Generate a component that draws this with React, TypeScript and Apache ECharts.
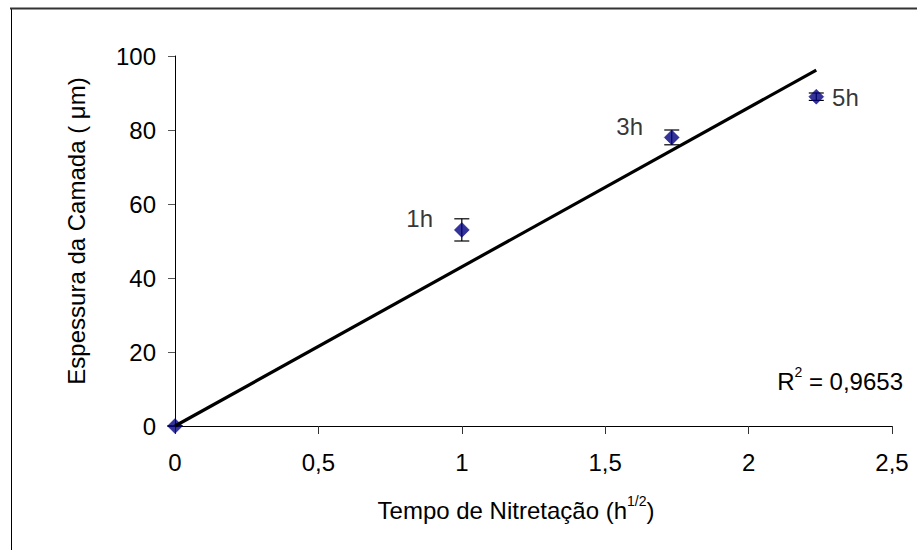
import React, { useEffect, useRef } from "react";
import * as echarts from "echarts";

const xValues = [0, 1, 1.732, 2.236];
const yValues = [0, 53, 78, 89];
const errValues = [0, 3, 2, 1];
const pointLabels = ["", "1h", "3h", "5h"];
const r2Value = "0,9653";
const xAxisTitle = "Tempo de Nitretação (h";
const xAxisTitleSup = "1/2";
const yAxisTitle = "Espessura da Camada ( μm)";

const FONT = "'Liberation Sans', Arial, sans-serif";
const FS = 24;

export default function App() {
  const ref = useRef<HTMLDivElement>(null);

  useEffect(() => {
    if (!ref.current) return;
    const chart = echarts.init(ref.current, undefined, { renderer: "svg" });

    // least-squares trendline through origin
    let sxy = 0, sxx = 0;
    xValues.forEach((x, i) => { sxy += x * yValues[i]; sxx += x * x; });
    const slope = sxy / sxx;
    const xMax = Math.max(...xValues);
    const trend = [[0, 0], [xMax, slope * xMax]];

    const points = xValues.map((x, i) => {
      const lbl = pointLabels[i];
      const isRight = i === xValues.length - 1;
      return {
        value: [x, yValues[i]],
        label: lbl
          ? isRight
            ? { show: true, position: "right", distance: 8, offset: [0, 1], formatter: lbl }
            : { show: true, position: "left", distance: 21, offset: [0, -11], formatter: lbl }
          : { show: false },
      };
    });

    const errData = xValues.map((x, i) => [x, yValues[i] - errValues[i], yValues[i] + errValues[i]]);

    chart.setOption({
      animation: false,
      backgroundColor: "#ffffff",
      textStyle: { fontFamily: FONT },
      grid: { left: 175, right: 25, top: 56, bottom: 124, containLabel: false },
      xAxis: {
        type: "value",
        min: 0,
        max: 2.5,
        interval: 0.5,
        splitLine: { show: false },
        axisLine: { show: true, onZero: false, lineStyle: { color: "#000", width: 1 } },
        axisTick: { show: true, length: 8, inside: false, lineStyle: { color: "#333" } },
        axisLabel: {
          margin: 24,
          color: "#000",
          fontSize: FS,
          fontFamily: FONT,
          formatter: (v: number) => String(v).replace(".", ","),
        },
      },
      yAxis: {
        type: "value",
        min: 0,
        max: 100,
        interval: 20,
        splitLine: { show: false },
        axisLine: { show: true, onZero: false, lineStyle: { color: "#000", width: 1 } },
        axisTick: { show: true, length: 7, inside: false, lineStyle: { color: "#555" } },
        axisLabel: { margin: 19, color: "#000", fontSize: FS, fontFamily: FONT },
      },
      series: [
        {
          type: "custom",
          name: "erro",
          data: errData,
          clip: false,
          z: 3,
          renderItem: (params: any, api: any) => {
            const x = api.value(0);
            const lo = api.coord([x, api.value(1)]);
            const hi = api.coord([x, api.value(2)]);
            const hw = 7.5;
            const st = { stroke: "#000", lineWidth: 1.2 };
            return {
              type: "group",
              children: [
                { type: "line", shape: { x1: lo[0], y1: lo[1], x2: hi[0], y2: hi[1] }, style: st },
                { type: "line", shape: { x1: lo[0] - hw, y1: lo[1], x2: lo[0] + hw, y2: lo[1] }, style: st },
                { type: "line", shape: { x1: hi[0] - hw, y1: hi[1], x2: hi[0] + hw, y2: hi[1] }, style: st },
              ],
            };
          },
        },
        {
          type: "scatter",
          name: "pontos",
          data: points,
          symbol: "diamond",
          symbolSize: [15, 15],
          clip: false,
          z: 4,
          itemStyle: { color: "#000080", borderColor: "#000080", borderWidth: 0.5 },
          label: { color: "#000", fontSize: FS, fontFamily: FONT },
        },
        {
          type: "line",
          name: "tendência",
          data: trend,
          showSymbol: false,
          symbol: "none",
          clip: false,
          z: 5,
          lineStyle: { color: "#000", width: 3.2 },
        },
      ],
      graphic: [
        { type: "line", shape: { x1: 11.5, y1: 8, x2: 11.5, y2: 560 }, style: { stroke: "#000", lineWidth: 1 } },
        { type: "line", shape: { x1: 10, y1: 8.5, x2: 930, y2: 8.5 }, style: { stroke: "#333", lineWidth: 2 } },
        {
          type: "text",
          x: 76.5,
          y: 231,
          rotation: Math.PI / 2,
          style: {
            text: yAxisTitle,
            fill: "#000",
            font: `${FS}px ${FONT}`,
            align: "center",
            verticalAlign: "middle",
          },
        },
        {
          type: "text",
          x: 516,
          y: 508,
          style: {
            text: `{a|${xAxisTitle}}{s|${xAxisTitleSup}}{a|)}`,
            align: "center",
            verticalAlign: "middle",
            rich: {
              a: { fontSize: FS, fontFamily: FONT, fill: "#000", color: "#000", lineHeight: 28, verticalAlign: "bottom" },
              s: { fontSize: 14, fontFamily: FONT, fill: "#000", color: "#000", lineHeight: 28, verticalAlign: "top", padding: [0, 0, 0, 0] },
            },
          },
        },
        {
          type: "text",
          x: 903,
          y: 379,
          style: {
            text: `{a|R}{s|2}{a| = ${r2Value}}`,
            align: "right",
            verticalAlign: "middle",
            rich: {
              a: { fontSize: FS, fontFamily: FONT, fill: "#000", color: "#000", lineHeight: 28, verticalAlign: "bottom" },
              s: { fontSize: 14, fontFamily: FONT, fill: "#000", color: "#000", lineHeight: 28, verticalAlign: "top" },
            },
          },
        },
      ],
    });

    return () => chart.dispose();
  }, []);

  return (
    <div
      ref={ref}
      style={{ position: "fixed", left: 0, top: 0, width: 917, height: 550, background: "#fff" }}
    />
  );
}
